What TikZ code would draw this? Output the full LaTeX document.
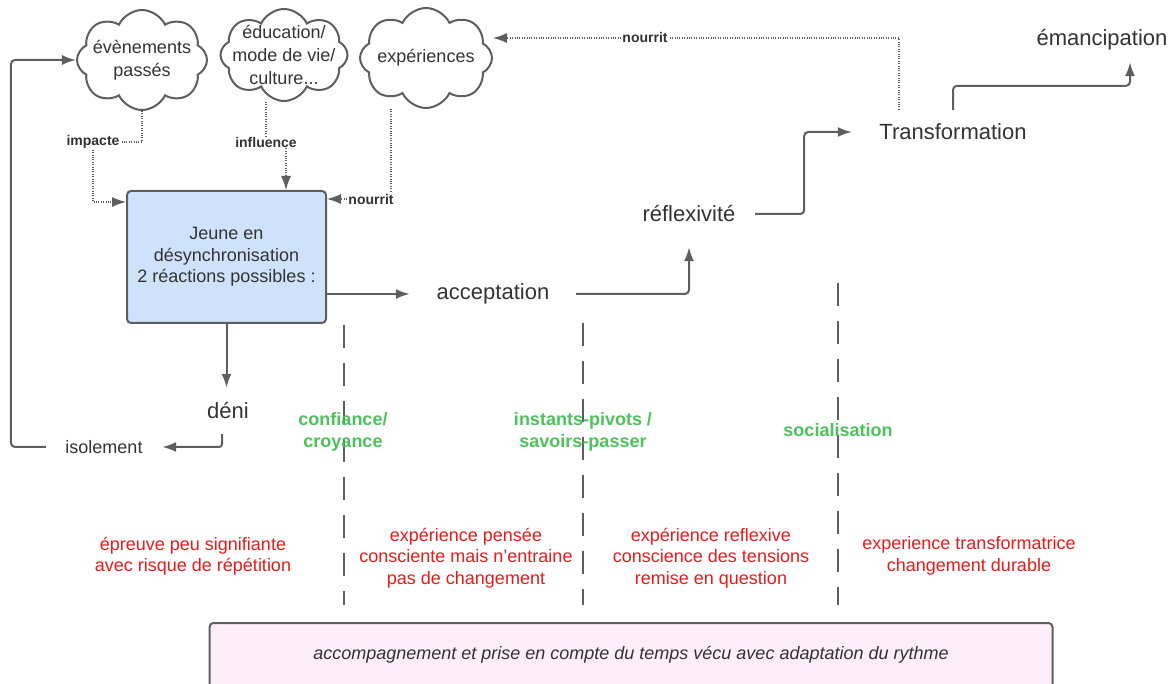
\documentclass[tikz,border=0pt]{standalone}
\usepackage{fontspec}
\setmainfont{Liberation Sans}
\usetikzlibrary{shapes.symbols}
\usetikzlibrary{arrows.meta}

\definecolor{linegray}{HTML}{5E5E5E}
\definecolor{textgray}{HTML}{333333}
\definecolor{boxblue}{HTML}{CFE2FB}
\definecolor{boxpink}{HTML}{FDEEF9}
\definecolor{pivotgreen}{HTML}{4CC35A}
\definecolor{stagered}{HTML}{E81A1A}

\begin{document}
\begin{tikzpicture}[x=1pt,y=-1pt]
\tikzset{cloudnode/.style = {shape=cloud, cloud puffs=8, cloud puff arc=130, cloud ignores aspect, draw=linegray, line width=2pt, inner sep=0pt}}
\tikzset{cloudtext/.style = {text=textgray, align=center, font=\fontsize{18}{23}\selectfont}}
\tikzset{word/.style = {text=textgray, inner sep=0pt, font=\fontsize{22}{26}\selectfont}}
\tikzset{jeune/.style = {draw=linegray, fill=boxblue, line width=2pt, rounded corners=4pt, minimum width=199pt, minimum height=132pt, align=center, text=textgray, font=\fontsize{18}{21.5}\selectfont}}
\tikzset{tag/.style = {text=textgray, fill=white, inner sep=1pt, font=\fontsize{14}{16}\selectfont\bfseries}}
\tikzset{pivot/.style = {text=pivotgreen, align=center, font=\fontsize{18}{22}\selectfont\bfseries}}
\tikzset{stage/.style = {text=stagered, align=center, font=\fontsize{18}{21.5}\selectfont}}
\tikzset{support/.style = {anchor=north, draw=linegray, fill=boxpink, line width=2pt, rounded corners=4pt, minimum width=843pt, inner ysep=0pt, text height=36pt, text depth=42pt, text=textgray, font=\fontsize{18}{22}\selectfont\itshape}}
\tikzset{edge/.style = {-{Latex[length=14pt,width=10pt]}, draw=linegray, line width=2pt}}
\tikzset{dotline/.style = {draw=linegray, line width=1.2pt, dash pattern=on 1pt off 1.4pt}}
\tikzset{dotedge/.style = {dotline, -{Latex[length=14pt,width=10pt]}}}
\tikzset{divider/.style = {draw=linegray, line width=2.5pt, dash pattern=on 23pt off 15pt}}

\useasboundingbox (0,0) rectangle (1176,684);

% clouds
\node[cloudnode, minimum width=130pt, minimum height=100pt, label={[cloudtext]center:évènements\\passés}] (c1) at (142,60) {};
\node[cloudnode, minimum width=127pt, minimum height=92pt, label={[cloudtext]center:éducation/\\mode de vie/\\culture...}] (c2) at (284,55) {};
\node[cloudnode, minimum width=132pt, minimum height=100pt, label={[cloudtext]center:expériences}] (c3) at (426,58) {};

% main path
\node[jeune] (box) at (226.5,257) {Jeune en\\désynchronisation\\2 réactions possibles :};
\node[word, minimum width=166pt] (accept) at (493,294) {acceptation};
\node[word, minimum width=132pt, minimum height=66pt] (reflex) at (689,214) {réflexivité};
\node[word, minimum width=202pt, minimum height=44pt] (transf) at (953,132) {Transformation};
\node[word, minimum height=44pt] (emanc) at (1102,40) {émancipation};
\node[word, minimum height=46pt] (deni) at (228,411) {déni};
\node[word, minimum width=116pt, font=\fontsize{18}{22}\selectfont] (isol) at (104,447) {isolement};

% labels on dotted links
\node[tag] (impact) at (93,142) {impacte};
\node[tag] (influ) at (266,142) {influence};
\node[tag] (feedside) at (371,199) {nourrit};
\node[tag] (feedtop) at (645,38) {nourrit};

\draw[edge] (box.east |- accept) -- (accept.west);
\draw[edge, rounded corners=4pt] (accept.east) -| (reflex.south);
\draw[edge, rounded corners=4pt] (reflex.east) -- ++(49,0) |- (transf.west);
\draw[edge, rounded corners=4pt] (transf.north) -- ++(0,-24) -| ([xshift=28pt]emanc.south);
\draw[edge] (box.south) -- (box.south |- deni.north);
\draw[edge, rounded corners=3pt] ([xshift=-6pt]deni.south) |- (isol.east);
\draw[edge, rounded corners=4pt] (isol.west) -| ([xshift=-65pt]c1.west) -- (c1.west);

\draw[dotline] (c1.south) |- (impact);
\draw[dotedge] (impact) |- ([yshift=-12pt]box.north west);
\draw[dotline] (influ |- c2.south) -- (influ);
\draw[dotedge] ([xshift=20pt]influ.south) -- ([xshift=20pt]influ.south |- box.north);
\draw[dotline] ([xshift=-35pt]c3.south) -- ([xshift=-35pt]c3.south |- feedside.north);
\draw[dotedge] (feedside) -- (box.east |- feedside);
\draw[dotline] ([xshift=-54pt]transf.north) |- (feedtop);
\draw[dotedge] (feedtop) -- (c3.east |- feedtop);

% stages
\foreach \x/\top in {344/325, 583/323, 838/283}
  \draw[divider] (\x,\top) -- (\x,605);

\node[pivot] (trust) at (343,432) {confiance/\\croyance};
\node[pivot] (pivots) at (583,432) {instants-pivots /\\savoirs-passer};
\node[pivot] (social) at (838,430) {socialisation};

\node[stage] (trial) at (193,556) {épreuve peu signifiante\\avec risque de répétition};
\node[stage] (thought) at (466,558) {expérience pensée\\consciente mais n'entraine\\pas de changement};
\node[stage] (reflexive) at (711,558) {expérience reflexive\\conscience des tensions\\remise en question};
\node[stage] (lasting) at (969,556) {experience transformatrice\\changement durable};

\node[support] (support) at (631,622) {accompagnement et prise en compte du temps vécu avec adaptation du rythme};
\end{tikzpicture}
\end{document}
